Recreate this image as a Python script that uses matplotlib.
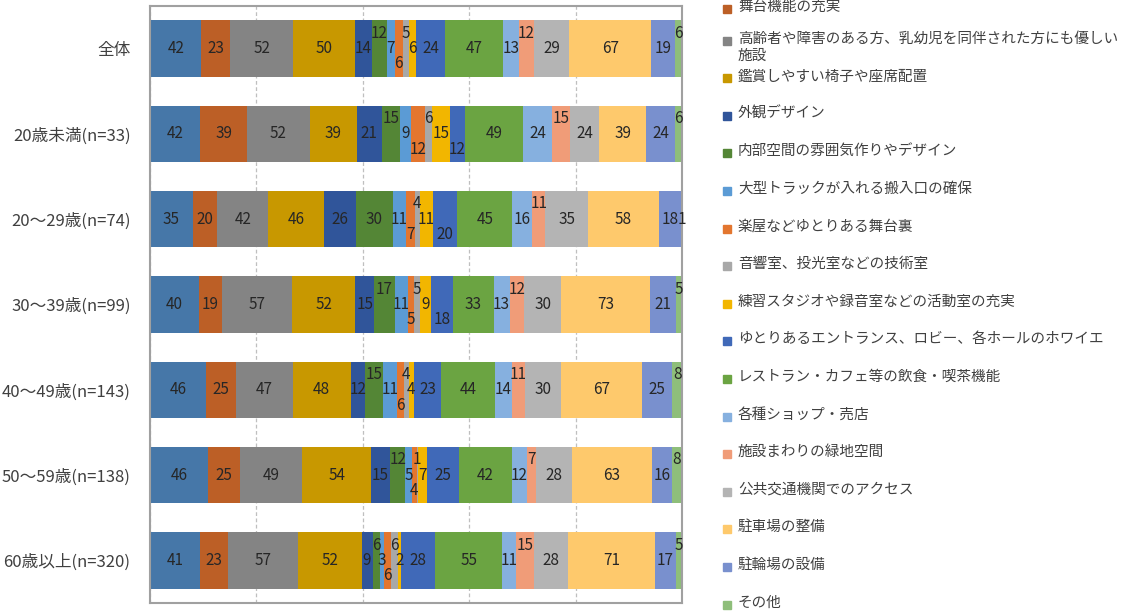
# ホール施設に求めるもの（年代別） 100%積み上げ横棒グラフ
import numpy as np
import matplotlib.pyplot as plt
from matplotlib.patches import Rectangle

plt.rcParams['font.family'] = ['Noto Sans CJK JP', 'DejaVu Sans']

# categories (top to bottom)
groups = ['全体', '20歳未満(n=33)', '20～29歳(n=74)', '30～39歳(n=99)',
          '40～49歳(n=143)', '50～59歳(n=138)', '60歳以上(n=320)']

# series names (first one is cut off above the picture, so not shown)
series_names = [None,
                '舞台機能の充実',
                '高齢者や障害のある方、乳幼児を同伴された方にも優しい\n施設',
                '鑑賞しやすい椅子や座席配置',
                '外観デザイン',
                '内部空間の雰囲気作りやデザイン',
                '大型トラックが入れる搬入口の確保',
                '楽屋などゆとりある舞台裏',
                '音響室、投光室などの技術室',
                '練習スタジオや録音室などの活動室の充実',
                'ゆとりあるエントランス、ロビー、各ホールのホワイエ',
                'レストラン・カフェ等の飲食・喫茶機能',
                '各種ショップ・売店',
                '施設まわりの緑地空間',
                '公共交通機関でのアクセス',
                '駐車場の整備',
                '駐輪場の設備',
                'その他']

# values (%) per group, one per series
v_all = [42, 23, 52, 50, 14, 12, 7, 6, 5, 6, 24, 47, 13, 12, 29, 67, 19, 6]
v_u20 = [42, 39, 52, 39, 21, 15, 9, 12, 6, 15, 12, 49, 24, 15, 24, 39, 24, 6]
v_20s = [35, 20, 42, 46, 26, 30, 11, 7, 4, 11, 20, 45, 16, 11, 35, 58, 18, 1]
v_30s = [40, 19, 57, 52, 15, 17, 11, 5, 5, 9, 18, 33, 13, 12, 30, 73, 21, 5]
v_40s = [46, 25, 47, 48, 12, 15, 11, 6, 4, 4, 23, 44, 14, 11, 30, 67, 25, 8]
v_50s = [46, 25, 49, 54, 15, 12, 5, 4, 1, 7, 25, 42, 12, 7, 28, 63, 16, 8]
v_60p = [41, 23, 57, 52, 9, 6, 3, 6, 6, 2, 28, 55, 11, 15, 28, 71, 17, 5]
values = np.array([v_all, v_u20, v_20s, v_30s, v_40s, v_50s, v_60p], dtype=float)

colors = ['#4677A8', '#BC5F26', '#848484', '#C89800', '#30559A', '#548636',
          '#5B9BD5', '#E3762F', '#A8A8A8', '#F2B600', '#4069B8', '#6BA442',
          '#86B0DF', '#F09C78', '#B4B4B4', '#FEC96C', '#7990CE', '#8EBE7A']

# label shift for small segments: +1 up, -1 down, 0 centre (index by series)
U, D = 1, -1
shifts = [
    {5: U, 7: D, 8: U, 13: U, 17: U},
    {5: U, 7: D, 8: U, 10: D, 13: U, 17: U},
    {7: D, 8: U, 10: D, 13: U},
    {5: U, 7: D, 8: U, 10: D, 13: U, 17: U},
    {5: U, 7: D, 8: U, 13: U, 17: U},
    {5: U, 7: D, 8: U, 13: U, 17: U},
    {5: U, 7: D, 8: U, 13: U, 17: U},
]

fig = plt.figure(figsize=(11.43, 6.14), dpi=100)
ax = fig.add_axes([150/1143, 1 - 603/614, 532/1143, 597/614])

pct = values / values.sum(axis=1, keepdims=True) * 100
y = np.arange(len(groups))
left = np.zeros(len(groups))
for j in range(values.shape[1]):
    ax.barh(y, pct[:, j], left=left, height=0.66, color=colors[j], zorder=2)
    for i in range(len(groups)):
        dy = -0.18 * shifts[i].get(j, 0)
        ax.text(left[i] + pct[i, j] / 2, y[i] + dy, f'{int(values[i, j])}',
                ha='center', va='center', fontsize=11, color='#262626', zorder=3)
    left += pct[:, j]

ax.set_xlim(0, 100)
ax.set_ylim(len(groups) - 0.5, -0.5)
ax.set_xticks([0, 20, 40, 60, 80, 100])
ax.xaxis.grid(True, color='#BFBFBF', linestyle=(0, (3, 2)), linewidth=0.9, zorder=0)
ax.tick_params(axis='x', length=0, labelbottom=False)
ax.tick_params(axis='y', length=0, pad=14)
ax.set_yticks(y)
ax.set_yticklabels(groups, fontsize=12, color='#404040')
for s in ax.spines.values():
    s.set_color('#A0A0A0')
    s.set_linewidth(1.5)

# legend drawn entry by entry (Excel style, first line of each entry on a fixed pitch)
W, H = 1143, 614
for k, name in enumerate(series_names[1:]):
    yc = 3 + 37.6 * k if k else 9
    fig.patches.append(Rectangle((723 / W, 1 - (yc + 4) / H), 8 / W, 8 / H,
                                 transform=fig.transFigure, color=colors[k + 1]))
    fig.text(738 / W, 1 - (yc - 9) / H, name, ha='left', va='top',
             fontsize=10.5, color='#404040', linespacing=1.25)

fig.savefig('out.png', dpi=100)
